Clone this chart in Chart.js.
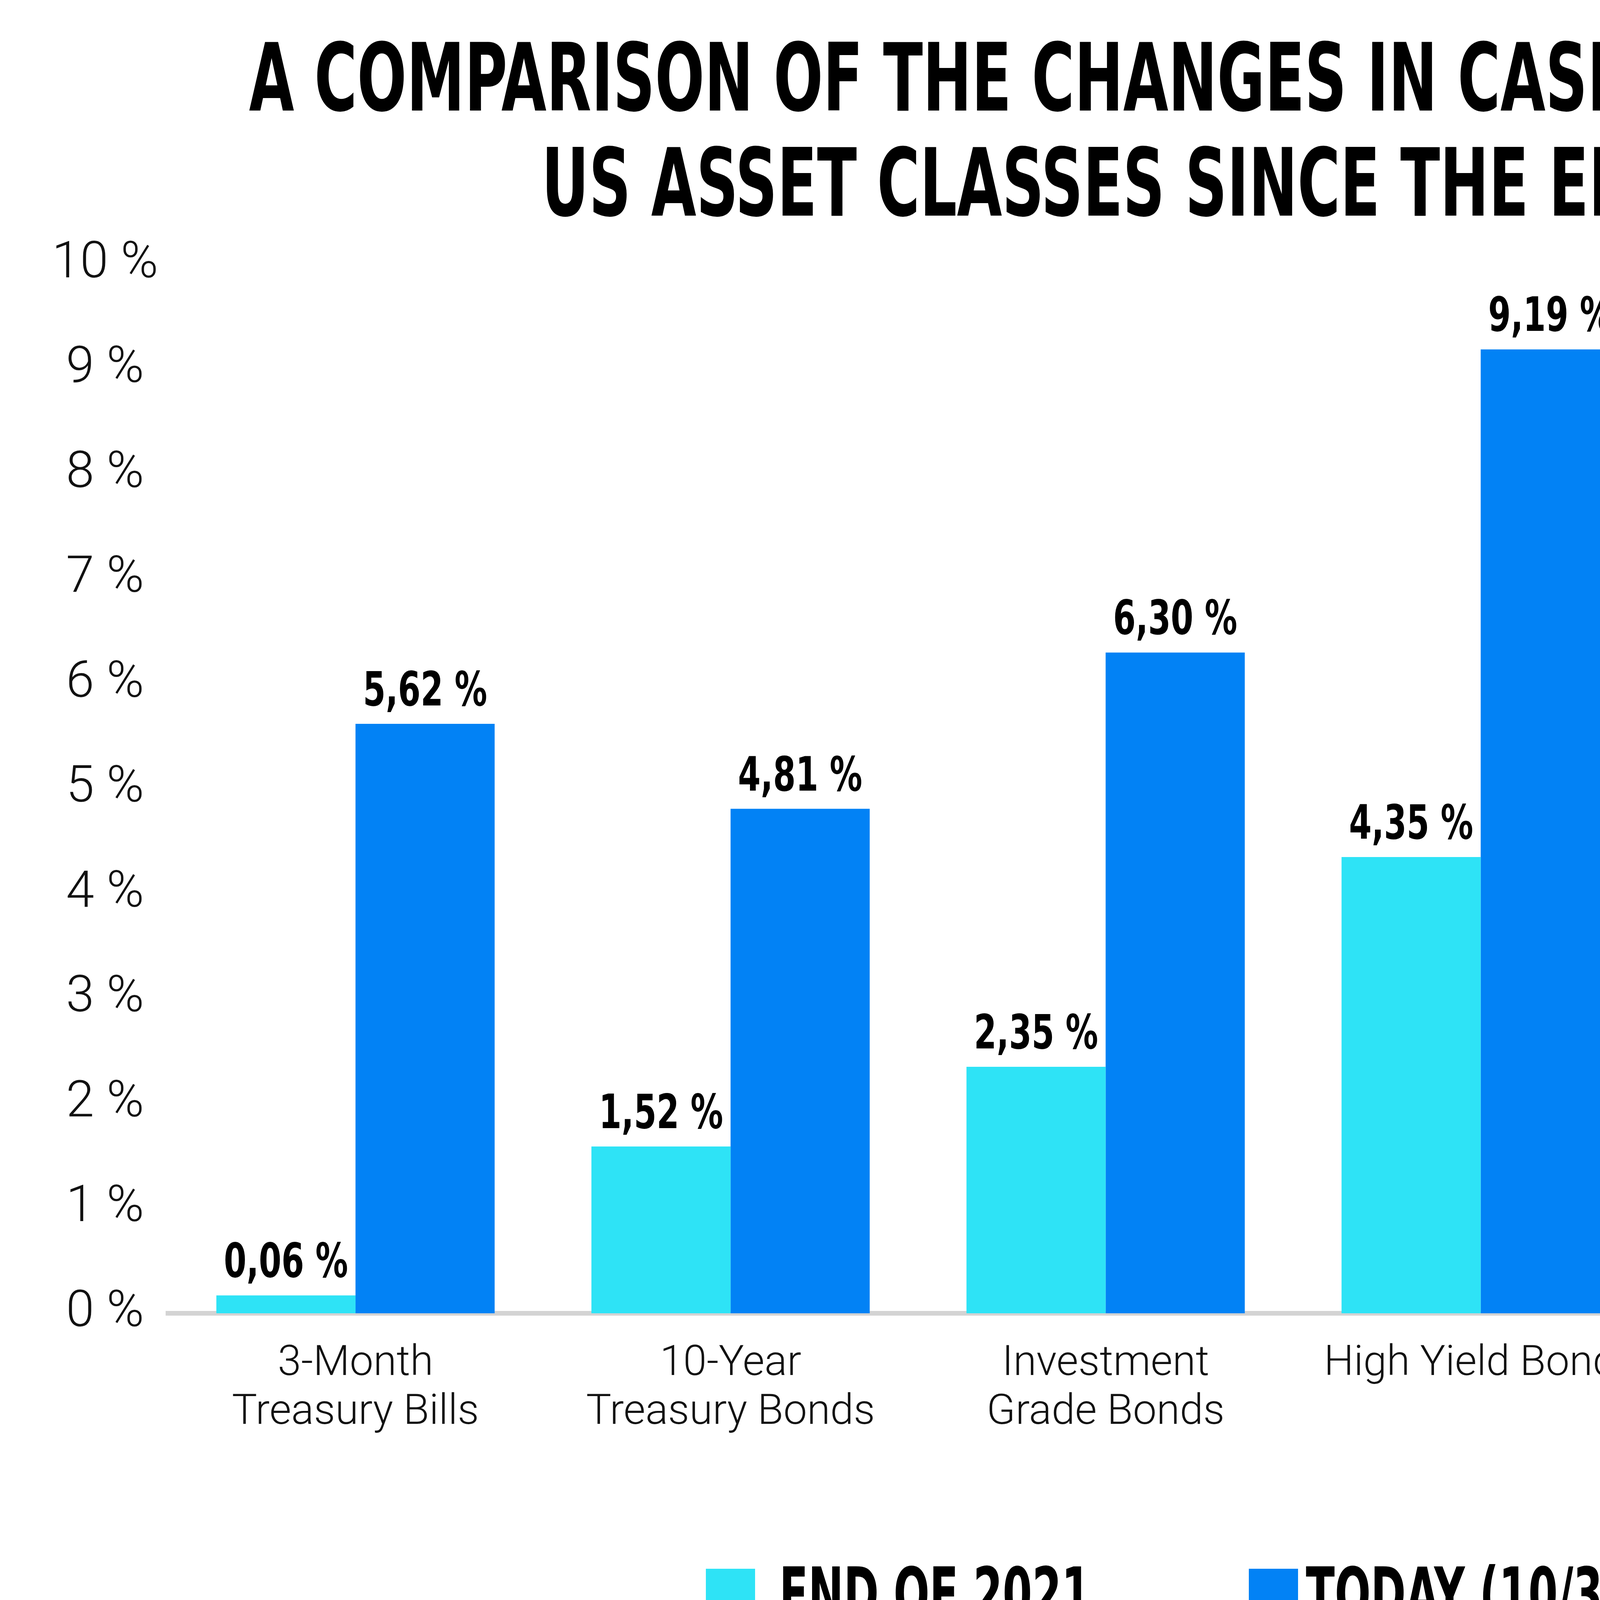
<!DOCTYPE html>
<html>
<head>
<meta charset="utf-8">
<title>Cash yield of US asset classes</title>
<script src="https://cdn.jsdelivr.net/npm/chart.js@4.4.0/dist/chart.umd.min.js"></script>
<style>
  html, body { margin: 0; padding: 0; background: #fff; overflow: hidden; }
  #wrap { width: 6118px; height: 4511px; overflow: hidden; }
  canvas { display: block; }
</style>
</head>
<body>
<div id="wrap"><canvas id="myChart" width="6191" height="4511" style="width:6191px;height:4511px"></canvas></div>
<script>
const categories = [
  ['3-Month', 'Treasury Bills'],
  ['10-Year', 'Treasury Bonds'],
  ['Investment', 'Grade Bonds'],
  'High Yield Bonds',
  'Index S&P 500',
  'US REITs'
];
const seriesNames = ['END OF 2021', 'TODAY (10/3/23)'];

// bar heights as they are drawn in the source graphic
const endOf2021 = [0.17, 1.59, 2.35, 4.35, 1.60, 2.85];
const today = [5.62, 4.81, 6.30, 9.19, 1.82, 4.82];

// value labels printed above the bars
const endOf2021Labels = ['0,06 %', '1,52 %', '2,35 %', '4,35 %', '1,29 %', '2,85 %'];
const todayLabels = ['5,62 %', '4,81 %', '6,30 %', '9,19 %', '1,64 %', '4,82 %'];

const yMin = 0, yMax = 10, yStep = 1;
const titleLines = [
  'A COMPARISON OF THE CHANGES IN CASH YIELD OF VARIOUS',
  'US ASSET CLASSES SINCE THE END OF 2021'
];
const sourceNote = 'Source: Charlie Bilello: The Week in Charts';

const cyan = '#2ee3f6';
const blue = '#0282f5';
const condensed = '"Liberation Sans Narrow", "DejaVu Sans Condensed", "Liberation Sans", sans-serif';

// draw bold condensed text, squeezed horizontally to a wanted width
function squeezed(ctx, text, x, y, size, sx, align) {
  ctx.save();
  ctx.font = 'bold ' + size + 'px ' + condensed;
  ctx.translate(x, y);
  ctx.scale(sx, 1);
  ctx.textAlign = align || 'center';
  ctx.textBaseline = 'alphabetic';
  ctx.fillStyle = '#000';
  ctx.fillText(text, 0, 0);
  ctx.restore();
}
function squeezeFor(ctx, text, size, width) {
  ctx.save();
  ctx.font = 'bold ' + size + 'px ' + condensed;
  const w = ctx.measureText(text).width;
  ctx.restore();
  return width / w;
}

const decorations = {
  id: 'decorations',
  afterDatasetsDraw(chart) {
    const ctx = chart.ctx;
    // value labels
    const lblSize = 122;
    const sx = squeezeFor(ctx, '0,00 %', lblSize, 318);
    const allLabels = [endOf2021Labels, todayLabels];
    chart.data.datasets.forEach((ds, i) => {
      chart.getDatasetMeta(i).data.forEach((bar, j) => {
        squeezed(ctx, allLabels[i][j], bar.x, bar.y - 47, lblSize, sx, 'center');
      });
    });
  },
  afterDraw(chart) {
    const ctx = chart.ctx;
    // title
    const tSize = 240;
    const tsx = squeezeFor(ctx, titleLines[0], tSize, 5165);
    squeezed(ctx, titleLines[0], 3220, 283, tSize, tsx, 'center');
    squeezed(ctx, titleLines[1], 3225, 552, tSize, tsx, 'center');

    // legend
    const box = 126, lSize = 184, boxTop = 4016, baseY = 4144;
    const lsx = squeezeFor(ctx, chart.data.datasets[0].label, lSize, 798);
    let x = 1807;
    chart.data.datasets.forEach((ds, i) => {
      ctx.fillStyle = ds.backgroundColor;
      ctx.fillRect(x, boxTop, box, box);
      const tx = x + box + (i === 0 ? 62 : 20);
      squeezed(ctx, ds.label, tx, baseY, lSize, lsx, 'left');
      ctx.save();
      ctx.font = 'bold ' + lSize + 'px ' + condensed;
      const w = ctx.measureText(ds.label).width * lsx;
      ctx.restore();
      x = tx + w + 404;
    });

    // source
    ctx.save();
    ctx.font = 'italic 300 76px Roboto, "Liberation Sans", sans-serif';
    ctx.fillStyle = '#222';
    ctx.textAlign = 'left';
    ctx.textBaseline = 'alphabetic';
    ctx.fillText(sourceNote, 191, 4409);
    ctx.restore();
  }
};

const ctx = document.getElementById('myChart').getContext('2d');
const myChart = new Chart(ctx, {
  type: 'bar',
  data: {
    labels: categories,
    datasets: [
      { label: seriesNames[0], data: endOf2021, backgroundColor: cyan, borderWidth: 0 },
      { label: seriesNames[1], data: today, backgroundColor: blue, borderWidth: 0 }
    ]
  },
  options: {
    responsive: false,
    animation: false,
    devicePixelRatio: 1,
    layout: { padding: { top: 677, left: 142, right: 0, bottom: 749 } },
    datasets: { bar: { barPercentage: 1, categoryPercentage: 0.742 } },
    plugins: {
      legend: { display: false },
      title: { display: false },
      tooltip: { enabled: false }
    },
    scales: {
      x: {
        grid: { display: false, drawTicks: false },
        border: { display: true, color: '#d3d3d3', width: 12 },
        ticks: {
          padding: 68,
          color: '#111',
          font: { family: 'Roboto', weight: 300, size: 108, lineHeight: 1.16 },
          maxRotation: 0,
          autoSkip: false
        },
        afterFit(scale) { scale.height = 400; }
      },
      y: {
        min: yMin,
        max: yMax,
        grid: { display: false, drawTicks: false },
        border: { display: false },
        ticks: {
          stepSize: yStep,
          padding: 25,
          crossAlign: 'center',
          color: '#111',
          font: { family: 'Roboto', weight: 300, size: 130 },
          callback: v => v + ' %'
        },
        afterFit(scale) { scale.width = 288; }
      }
    }
  },
  plugins: [decorations]
});
</script>
</body>
</html>
